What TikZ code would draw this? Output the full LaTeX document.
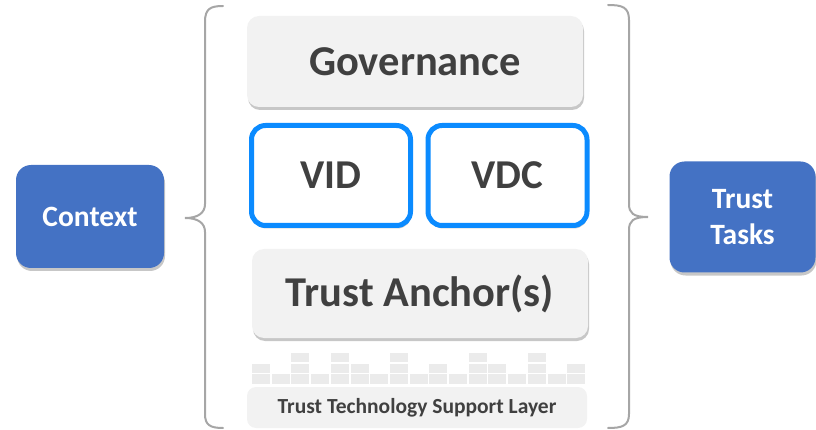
\documentclass[tikz,border=0pt]{standalone}
\usepackage{fontspec}
\setmainfont{Carlito}
\usetikzlibrary{shadows}
\definecolor{txtgray}{HTML}{404040}
\definecolor{boxgray}{HTML}{F2F2F2}
\definecolor{blockgray}{HTML}{EBEBEB}
\definecolor{vblue}{HTML}{0B8BFF}
\definecolor{sideblue}{HTML}{4472C4}
\definecolor{bracegray}{HTML}{A6A6A6}
\tikzset{
  softshadow/.style={drop shadow={shadow xshift=1pt,shadow yshift=-3pt,opacity=0.22,fill=black}},
  graybox/.style={rounded corners=12pt,fill=boxgray,inner sep=0pt,text=txtgray,font=\bfseries\fontsize{42.5}{50}\selectfont,softshadow},
  bluebox/.style={rounded corners=14pt,fill=white,draw=vblue,line width=5pt,inner sep=0pt,text=txtgray,font=\bfseries\fontsize{41}{48}\selectfont,softshadow},
  sidebox/.style={rounded corners=15pt,fill=sideblue,inner sep=0pt,text=white,align=center,font=\bfseries\fontsize{29.5}{36}\selectfont,softshadow},
  supportbox/.style={rounded corners=9pt,fill=boxgray,inner sep=0pt,text=txtgray,font=\bfseries\fontsize{21.5}{26}\selectfont},
  block/.style={fill=blockgray,draw=none},
  bracestyle/.style={draw=bracegray,line width=2pt,line cap=round}
}
\begin{document}
\begin{tikzpicture}[x=1pt,y=-1pt]
\useasboundingbox (0,0) rectangle (816,430);
% layer boxes
\node[graybox,minimum width=336pt,minimum height=91pt] (gov) at (415,61.5) {Governance};
\node[bluebox,minimum width=159pt,minimum height=100pt] (vid) at (331,175.5) {VID};
\node[bluebox,minimum width=159pt,minimum height=100pt] (vdc) at (507.5,175.5) {VDC};
\node[graybox,minimum width=336pt,minimum height=89pt] (anchor) at (420,293.5) {Trust Anchor(s)};
% blocks
\foreach \h [count=\i from 0] in {2,1,3,1,3,2,1,3,1,2,1,3,2,1,3,1,2}{
  \pgfmathsetmacro{\xl}{252+\i*19.7}
  \fill[block] (\xl,374) rectangle ++(18,9.5);
  \ifnum\h>1 \fill[block] (\xl,363.5) rectangle ++(18,9);\fi
  \ifnum\h>2 \fill[block] (\xl,353) rectangle ++(18,9);\fi
}
\node[supportbox,minimum width=340pt,minimum height=41pt] (support) at (417,407.5) {Trust Technology Support Layer};
% side boxes
\node[sidebox,minimum width=148pt,minimum height=103pt] (context) at (90,216.5) {Context};
\node[sidebox,minimum width=146pt,minimum height=111pt] (tasks) at (742.5,217) {Trust\\Tasks};
% braces
\draw[bracestyle] (223,6) .. controls (210,6) and (205,9) .. (205,22)
  -- (205,204) .. controls (205,213) and (198,218) .. (185,218)
  .. controls (198,218) and (205,223) .. (205,232)
  -- (205,414) .. controls (205,425) and (210,428) .. (223,428);
\draw[bracestyle] (608,5) .. controls (622,5) and (629,7) .. (629,20)
  -- (629,204) .. controls (629,213) and (633,217) .. (648,217)
  .. controls (633,217) and (629,221) .. (629,230)
  -- (629,414) .. controls (629,426) and (622,428) .. (608,428);
\end{tikzpicture}
\end{document}
